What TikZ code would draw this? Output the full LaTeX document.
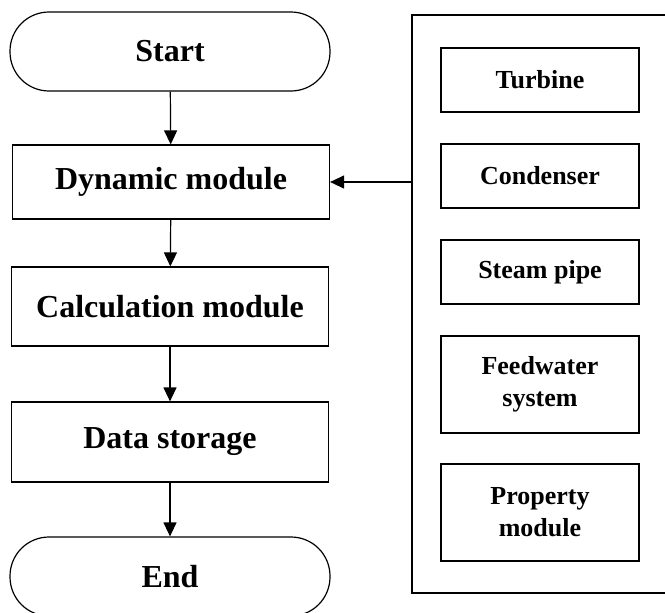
\documentclass[tikz,border=0pt]{standalone}
\usepackage{fontspec}
\setmainfont{Liberation Serif}
\usetikzlibrary{arrows.meta}
\begin{document}
\begin{tikzpicture}[x=1pt,y=-1pt,
  line width=1.2pt,
  mainbox/.style={draw, rectangle, minimum width=317pt, minimum height=76pt, inner sep=0pt,
    font=\fontsize{32}{34}\selectfont\bfseries},
  termbox/.style={mainbox, rounded corners=39pt, minimum height=79pt, minimum width=320pt},
  subbox/.style={draw, rectangle, minimum width=198pt, minimum height=64pt, inner sep=0pt,
    align=center, font=\fontsize{26}{32}\selectfont\bfseries},
  arr/.style={-{Triangle[length=14pt,width=13pt]}}]
\useasboundingbox (0,0) rectangle (665,613);
\node[termbox] (start) at (170,51.5) {Start};
\node[mainbox, minimum height=74pt] (dyn) at (171,182) {Dynamic module};
\node[mainbox, minimum height=79pt] (calc) at (170,306.5) {Calculation module};
\node[mainbox, minimum height=80pt] (data) at (170,442) {Data storage};
\node[termbox] (end) at (170,576.5) {End};
\draw (680,15) -- (412,15) -- (412,593) -- (680,593);
\coordinate (cont) at (412,182);
\node[subbox] (tur) at (540,80) {Turbine};
\node[subbox] (con) at (540,176) {Condenser};
\node[subbox] (ste) at (540,272) {Steam pipe};
\node[subbox, minimum height=97pt] (fee) at (540,384.5) {Feedwater\\system};
\node[subbox, minimum height=97pt] (pro) at (540,512.5) {Property\\module};
\draw[arr] (start) -- (dyn);
\draw[arr] (dyn) -- (calc);
\draw[arr] (calc) -- (data);
\draw[arr] (data) -- (end);
\draw[arr] (cont) -- (dyn.east);
\end{tikzpicture}
\end{document}
